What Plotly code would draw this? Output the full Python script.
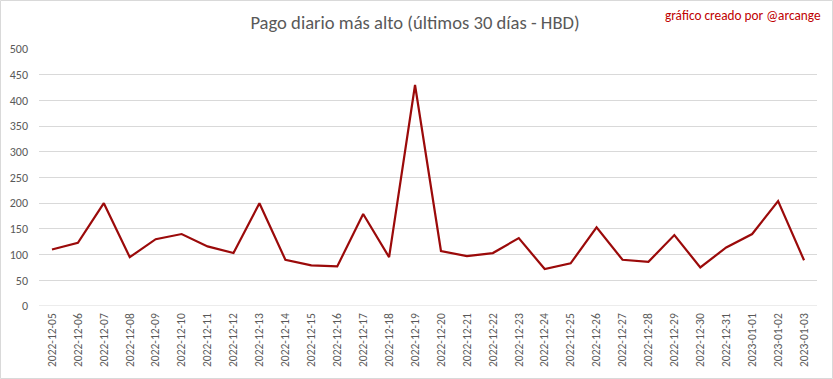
import plotly.graph_objects as go

dates = ["2022-12-05", "2022-12-06", "2022-12-07", "2022-12-08", "2022-12-09",
         "2022-12-10", "2022-12-11", "2022-12-12", "2022-12-13", "2022-12-14",
         "2022-12-15", "2022-12-16", "2022-12-17", "2022-12-18", "2022-12-19",
         "2022-12-20", "2022-12-21", "2022-12-22", "2022-12-23", "2022-12-24",
         "2022-12-25", "2022-12-26", "2022-12-27", "2022-12-28", "2022-12-29",
         "2022-12-30", "2022-12-31", "2023-01-01", "2023-01-02", "2023-01-03"]
values = [110, 123, 200, 95, 130, 140, 116, 103, 200, 90,
          79, 77, 179, 95, 430, 107, 97, 103, 132, 72,
          83, 153, 90, 86, 138, 75, 114, 140, 204, 89]
y_ticks = [0, 50, 100, 150, 200, 250, 300, 350, 400, 450, 500]

title_text = "Pago diario más alto (últimos 30 días - HBD)"
credit_text = "gráfico creado por @arcange"

W, H = 833, 379
ML, MR, MT, MB = 39, 16, 49, 73
pw, ph = W - ML - MR, H - MT - MB

fig = go.Figure()
fig.add_trace(go.Scatter(x=dates, y=values, mode="lines",
                         line=dict(color="#9B0A0A", width=2.2),
                         hoverinfo="x+y"))

font_family = "Carlito, Calibri, 'Liberation Sans Narrow', 'Open Sans', sans-serif"

fig.update_layout(
    width=W, height=H,
    margin=dict(l=ML, r=MR, t=MT, b=MB, autoexpand=False),
    paper_bgcolor="white", plot_bgcolor="white",
    showlegend=False,
    font=dict(family=font_family, color="#595959"),
    title=dict(text=title_text, x=415 / W, xanchor="center",
               y=1 - 22 / H, yanchor="middle",
               font=dict(size=18.6, color="#595959", family=font_family)),
    xaxis=dict(type="category", tickangle=-90, showgrid=False, automargin=False,
               tickfont=dict(size=11.5, color="#595959"),
               showline=False, ticks="", zeroline=False, ticklabelstandoff=4,
               range=[-0.5, len(dates) - 0.5]),
    yaxis=dict(range=[0, 500], tickvals=y_ticks, showgrid=True, automargin=False,
               gridcolor="#D9D9D9", gridwidth=1, zeroline=False,
               showline=False, ticks="", ticklabelstandoff=10,
               tickfont=dict(size=12, color="#595959")),
    annotations=[dict(text=credit_text, xref="paper", yref="paper",
                      x=(823 - ML) / pw, y=(H - MB - 15) / ph,
                      xanchor="right", yanchor="middle", showarrow=False,
                      font=dict(size=13.3, color="#C00000", family=font_family))],
    shapes=[
        dict(type="line", xref="paper", yref="y", x0=0, x1=1, y0=0, y1=0,
             line=dict(color="#D9D9D9", width=1)),
        dict(type="rect", xref="paper", yref="paper",
             x0=(0.5 - ML) / pw, x1=(W - 0.5 - ML) / pw,
             y0=(-(H - 0.5 - MT - ph)) / ph, y1=(H - 0.5 - MB) / ph,
             line=dict(color="#D9D9D9", width=1), layer="below")
    ],
)

fig.write_html("out.html", config={"displayModeBar": False},
               post_script="document.body.style.margin='0';document.body.style.overflow='hidden';")
